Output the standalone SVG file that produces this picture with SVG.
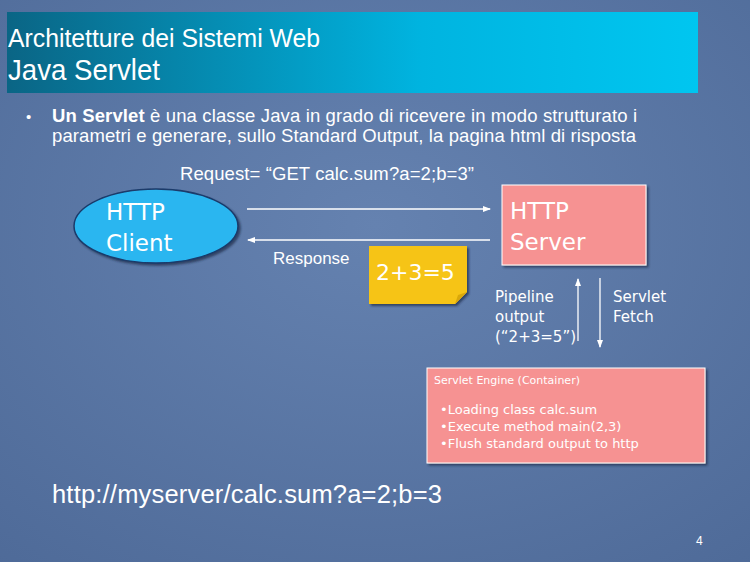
<svg xmlns="http://www.w3.org/2000/svg" width="750" height="562" viewBox="0 0 750 562">
<defs>
<linearGradient id="tb" x1="0" x2="1"><stop offset="0" stop-color="#0a6585"/><stop offset="0.6" stop-color="#00b4e0"/><stop offset="1" stop-color="#00c6f0"/></linearGradient>
<radialGradient id="bg" cx="0.5" cy="0.4" r="0.8"><stop offset="0" stop-color="#6582b0"/><stop offset="1" stop-color="#4e6a98"/></radialGradient>
<marker id="ah" markerWidth="8" markerHeight="8" refX="7" refY="4" orient="auto" markerUnits="userSpaceOnUse"><path d="M0,1 L8,4 L0,7 Z" fill="#fff"/></marker>
<filter id="sh"><feDropShadow dx="2" dy="2" stdDeviation="1" flood-color="#1a2a45" flood-opacity="0.7"/></filter>
</defs>
<style>
text{font-family:"Liberation Sans",Arial,sans-serif;fill:#fff}
.v{font-family:"DejaVu Sans",Verdana,sans-serif}
.ln{stroke:#fff;stroke-width:1.3;fill:none}
</style>
<rect width="750" height="562" fill="url(#bg)"/>
<rect x="7" y="12" width="691" height="81" fill="url(#tb)"/>
<text x="8" y="47" font-size="25" textLength="312" lengthAdjust="spacingAndGlyphs">Architetture dei Sistemi Web</text>
<text x="8" y="80" font-size="29" textLength="152" lengthAdjust="spacingAndGlyphs">Java Servlet</text>
<text x="26" y="122" font-size="15">•</text>
<text x="52" y="122" font-size="18.5" textLength="585"><tspan font-weight="bold">Un Servlet</tspan> è una classe Java in grado di ricevere in modo strutturato i</text>
<text x="52" y="142" font-size="18.5" textLength="584">parametri e generare, sullo Standard Output, la pagina html di risposta</text>
<text x="180" y="180" font-size="18.5" textLength="294">Request= “GET calc.sum?a=2;b=3”</text>
<g id="client"><ellipse cx="156" cy="226" rx="82" ry="37" fill="#2ab6f0" stroke="#1a3a6a" stroke-width="1.5" filter="url(#sh)"/>
<text x="106" y="220" font-size="23" class="v">HTTP</text><text x="106" y="251" font-size="23" class="v">Client</text></g>
<g id="server"><rect x="502" y="185" width="144" height="80" fill="#f69292" stroke="#fff" stroke-width="1" filter="url(#sh)"/>
<text x="510" y="219" font-size="23" class="v">HTTP</text><text x="510" y="250" font-size="23" class="v">Server</text></g>
<g id="note"><path d="M369,246 H467 V292 L455,304 H369 Z" fill="#f6c412" filter="url(#sh)"/><path d="M455,304 L458,295 L467,292" fill="#d9a80a"/>
<text x="376" y="280" font-size="22" class="v">2+3=5</text></g>
<g id="engine"><rect x="427" y="368" width="278" height="95" fill="#f69292" stroke="#fff" stroke-width="1" filter="url(#sh)"/>
<text x="434" y="384" font-size="11" class="v">Servlet Engine (Container)</text>
<text x="440" y="414" font-size="13" class="v">•Loading class calc.sum</text>
<text x="440" y="431" font-size="13" class="v">•Execute method main(2,3)</text>
<text x="440" y="448" font-size="13" class="v">•Flush standard output to http</text></g>
<g id="connectors">
<line class="ln" x1="247" y1="209" x2="490" y2="209" marker-end="url(#ah)"/>
<line class="ln" x1="490" y1="240" x2="248" y2="240" marker-end="url(#ah)"/>
<line class="ln" x1="578" y1="341" x2="578" y2="279" marker-end="url(#ah)"/>
<line class="ln" x1="600" y1="278" x2="600" y2="347" marker-end="url(#ah)"/>
</g>
<text x="273" y="264" font-size="17">Response</text>
<text x="495" y="302" font-size="15" class="v">Pipeline</text>
<text x="495" y="322" font-size="15" class="v">output</text>
<text x="495" y="342" font-size="15" class="v">(“2+3=5”)</text>
<text x="613" y="302" font-size="15" class="v">Servlet</text>
<text x="613" y="322" font-size="15" class="v">Fetch</text>
<text x="52" y="503" font-size="25.5" textLength="390">http://myserver/calc.sum?a=2;b=3</text>
<text x="696" y="545" font-size="12">4</text>
</svg>
